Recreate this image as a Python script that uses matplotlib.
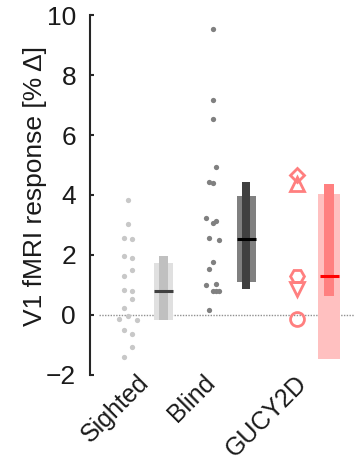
import matplotlib
matplotlib.use('Agg')
import matplotlib.pyplot as plt
import numpy as np

plt.rcParams['font.family'] = ['Liberation Sans', 'DejaVu Sans']

groups = ['Sighted', 'Blind', 'GUCY2D']

# individual responses (% signal change)
sighted = [3.83, 3.03, 2.56, 2.52, 1.98, 1.91, 1.49, 1.29, 0.83, 0.79, 0.54,
           0.23, -0.04, -0.14, -0.16, -0.50, -0.64, -1.06, -1.41]
sighted_slot = [0, 0, -1, 1, -1, 1, 1, -1, -1, 1, 1, -1, 0, -2, 2, -1, 1, 1, -1]

blind = [9.52, 7.16, 6.53, 4.92, 4.44, 4.39, 3.23, 3.13, 3.08, 2.58, 2.51,
         1.77, 1.54, 1.04, 0.99, 0.79, 0.79, 0.79, 0.18]
blind_slot = [0, 0, 0, 1, -1, 0, -2, 1, 0, -1, 2, 0, -1, 1, -2, 0, 1, 2, -1]

gucy = [4.65, 4.35, 1.31, 0.87, -0.14]
gucy_markers = ['D', '^', 'H', 'v', 'o']

# summary bars: (low, high) for wide box and narrow bar, plus median
box_wide = [(-0.17, 1.74), (1.11, 3.97), (-1.47, 4.03)]
box_narrow = [(-0.17, 1.97), (0.88, 4.43), (0.64, 4.36)]
medians = [0.79, 2.52, 1.29]

fig = plt.figure(figsize=(3.55, 4.66), dpi=100)
ax = fig.add_axes([0.2535, 0.1953, 0.7465, 0.7725])

# zero line
ax.plot([0.66, 3.7], [0, 0], ls=(0, (1, 1)), color='#909090', lw=1, zorder=1)

# dots
ax.plot(1 + 0.051 * np.array(sighted_slot), sighted, 'o', ms=3.8,
        color='#c8c8c8', mec='none', zorder=3)
ax.plot(2 + 0.039 * np.array(blind_slot), blind, 'o', ms=3.8,
        color='#808080', mec='none', zorder=3)
for v, m in zip(gucy, gucy_markers):
    ms = 7 if m == 'D' else 10
    ax.plot(3, v, m, ms=ms, mfc='none', mec='#ff7f7f', mew=2, zorder=3)

# boxes
box_x = [1.42, 2.40, 3.38]
wide_w = [0.225, 0.225, 0.26]
narrow_w = [0.095, 0.095, 0.126]
med_w = [0.225, 0.225, 0.225]
wide_c = ['#e0e0e0', '#808080', '#ffc0c0']
narrow_c = ['#c0c0c0', '#404040', '#ff8080']
med_c = ['#404040', '#000000', '#ff0000']
for i in range(3):
    lo, hi = box_wide[i]
    ax.bar(box_x[i], hi - lo, bottom=lo, width=wide_w[i], color=wide_c[i], zorder=2)
    lo, hi = box_narrow[i]
    ax.bar(box_x[i], hi - lo, bottom=lo, width=narrow_w[i], color=narrow_c[i], zorder=2)
    ax.plot([box_x[i] - med_w[i] / 2, box_x[i] + med_w[i] / 2], [medians[i]] * 2,
            color=med_c[i], lw=2.2, solid_capstyle='butt', zorder=4)

ax.set_xlim(0.55, 3.686)
ax.set_ylim(-2, 10)
ax.set_yticks(np.arange(-2, 11, 2))
ax.set_xticks([1.2, 1.98, 3.07])
ax.set_xticklabels(groups, rotation=45, ha='right', va='center',
                   rotation_mode='anchor', fontsize=18, color='#1a1a1a')
ax.tick_params(axis='x', length=0, pad=3)
ax.tick_params(axis='y', direction='in', length=3, width=1.5, labelsize=19,
               pad=10, color='#262626', labelcolor='#1a1a1a')
for s in ['top', 'right', 'bottom']:
    ax.spines[s].set_visible(False)
ax.spines['left'].set_linewidth(1.5)
ax.spines['left'].set_color('#262626')

ax.set_ylabel('V1 fMRI response [% Δ]', fontsize=19, color='#1a1a1a')
ax.yaxis.set_label_coords(-0.162, 0.525)

fig.savefig('out.png', dpi=100)
